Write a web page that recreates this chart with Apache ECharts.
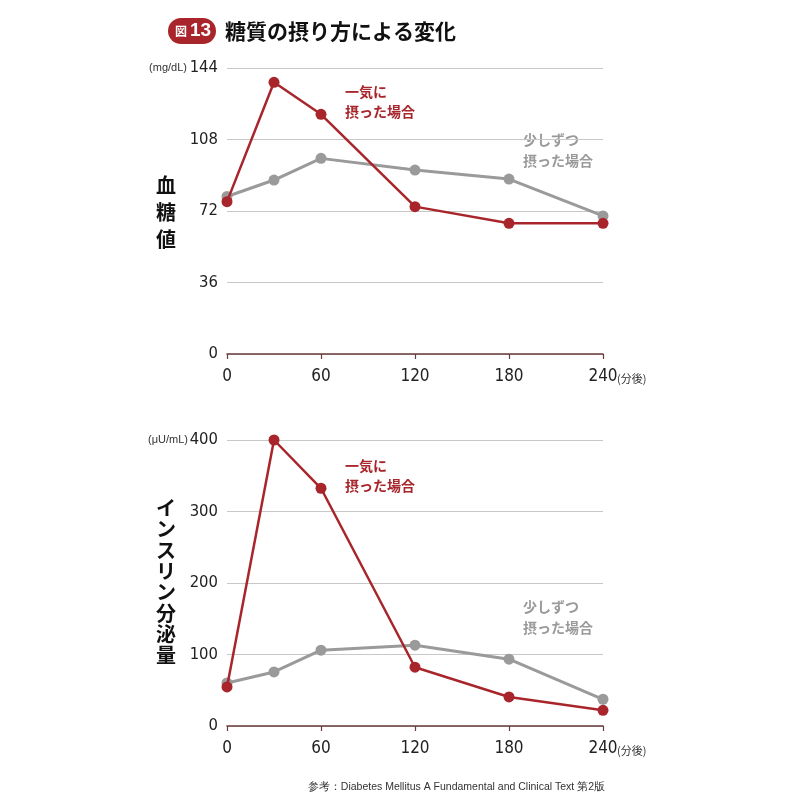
<!DOCTYPE html>
<html><head><meta charset="utf-8">
<script src="https://cdn.jsdelivr.net/npm/echarts@6/dist/echarts.min.js"></script>
<style>html,body{margin:0;padding:0;background:#fff}#c{width:800px;height:800px}</style>
</head><body><div id="c"></div>
<script>
const minutes = [0, 30, 60, 120, 180, 240];
const xTicks = [0, 60, 120, 180, 240];
const glucoseAll = [76.7, 136.8, 120.7, 74.2, 65.8, 65.8];
const glucoseSlow = [79.3, 87.6, 98.5, 92.6, 88.1, 69.5];
const insulinAll = [54.6, 400, 332.5, 82.2, 40.6, 22];
const insulinSlow = [60.2, 75.6, 106, 113, 93.5, 37.4];
const glucoseTicks = [0, 36, 72, 108, 144];
const insulinTicks = [0, 100, 200, 300, 400];

const RED = '#a8262b', GRAY = '#9a9a9a';
const FONT = '"DejaVu Sans Condensed","Liberation Sans",Arial,sans-serif';
const FOOT = '"Liberation Sans",Arial,sans-serif';
const JP = '"Noto Sans CJK JP",sans-serif';

function pairs(xs, ys){ return xs.map((x,i)=>[x, ys[i]]); }
function xAxis(gi){
  return {type:'value', gridIndex:gi, min:0, max:240, interval:60,
    axisLine:{show:true, lineStyle:{color:'#6b3a3a', width:1.5}},
    axisTick:{show:true, length:5, inside:false, lineStyle:{color:'#6b3a3a', width:1.2}},
    axisLabel:{color:'#222', fontSize:17, fontFamily:FONT, margin:14},
    splitLine:{show:false}};
}
function yAxis(gi, max, interval){
  return {type:'value', gridIndex:gi, min:0, max:max, interval:interval,
    axisLine:{show:false}, axisTick:{show:false},
    axisLabel:{color:'#222', fontSize:16.5, fontFamily:FONT, margin:9},
    splitLine:{show:true, lineStyle:{color:'#c8c8c8', width:1}}};
}
function line(gi, data, color, w, z){
  return {type:'line', xAxisIndex:gi, yAxisIndex:gi, data:data, symbol:'circle', symbolSize:11,
    lineStyle:{color:color, width:w}, itemStyle:{color:color}, z:z, animation:false};
}

const chart = echarts.init(document.getElementById('c'));
chart.setOption({
  backgroundColor:'#fff',
  animation:false,
  grid:[{left:227, width:376, top:68, height:286},{left:227, width:376, top:440, height:286}],
  xAxis:[xAxis(0), xAxis(1)],
  yAxis:[yAxis(0,144,36), yAxis(1,400,100)],
  series:[
    line(0, pairs(minutes, glucoseSlow), GRAY, 3, 2),
    line(0, pairs(minutes, glucoseAll), RED, 2.5, 3),
    line(1, pairs(minutes, insulinSlow), GRAY, 3, 2),
    line(1, pairs(minutes, insulinAll), RED, 2.5, 3)
  ],
  graphic:[
    {type:'rect', shape:{x:168, y:18, width:48, height:26, r:13}, style:{fill:'#a8262b'}},
    {type:'text', x:175, y:31, style:{text:'図', fill:'#fff', font:'bold 12px '+JP, verticalAlign:'middle'}},
    {type:'text', x:190, y:31, style:{text:'13', fill:'#fff', font:'bold 19px '+FOOT, verticalAlign:'middle'}},
    {type:'text', x:225, y:31, style:{text:'糖質の摂り方による変化', fill:'#111', font:'bold 21px '+JP, verticalAlign:'middle'}},
    {type:'text', x:187, y:68, style:{text:'(mg/dL)', fill:'#333', font:'11px '+FOOT, align:'right', verticalAlign:'middle'}},
    {type:'text', x:188, y:440, style:{text:'(μU/mL)', fill:'#333', font:'11px '+FOOT, align:'right', verticalAlign:'middle'}},
    {type:'text', x:617, y:379, style:{text:'(分後)', fill:'#333', font:'11px '+JP, verticalAlign:'middle'}},
    {type:'text', x:617, y:751, style:{text:'(分後)', fill:'#333', font:'11px '+JP, verticalAlign:'middle'}},
    {type:'text', x:166, y:172, style:{text:'血\n糖\n値', fill:'#111', font:'bold 20px '+JP, lineHeight:27, align:'center'}},
    {type:'text', x:166, y:498, style:{text:'イ\nン\nス\nリ\nン\n分\n泌\n量', fill:'#111', font:'bold 20px '+JP, lineHeight:21, align:'center'}},
    {type:'text', x:345, y:82, style:{text:'一気に\n摂った場合', fill:RED, font:'bold 14px '+JP, lineHeight:20}},
    {type:'text', x:523, y:129, style:{text:'少しずつ\n摂った場合', fill:GRAY, font:'bold 14px '+JP, lineHeight:21}},
    {type:'text', x:345, y:456, style:{text:'一気に\n摂った場合', fill:RED, font:'bold 14px '+JP, lineHeight:20}},
    {type:'text', x:523, y:596, style:{text:'少しずつ\n摂った場合', fill:GRAY, font:'bold 14px '+JP, lineHeight:21}},
    {type:'text', x:605, y:787, style:{text:'参考：Diabetes Mellitus A Fundamental and Clinical Text 第2版', fill:'#333', font:'10.5px '+FOOT, align:'right', verticalAlign:'middle'}}
  ]
});
</script></body></html>
